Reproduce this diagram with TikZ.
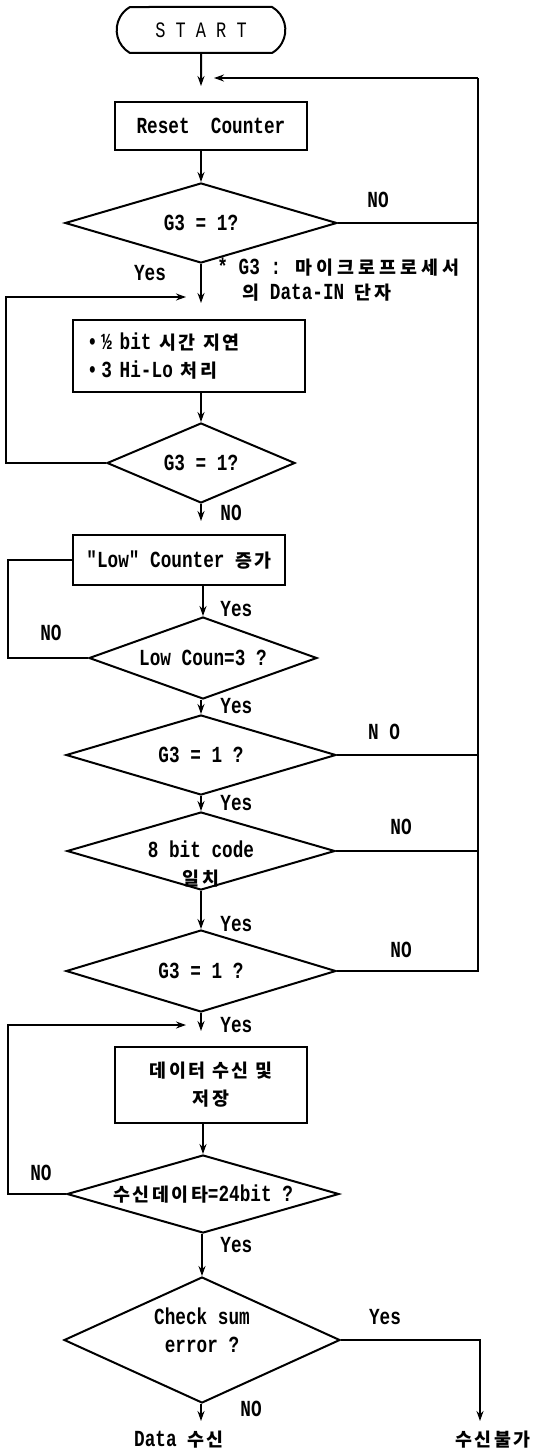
\documentclass[tikz,border=0pt]{standalone}
\usepackage{fontspec}
\setmainfont{Liberation Mono}[FakeStretch=0.77]
\newfontfamily\mono{Liberation Mono}[FakeStretch=0.77]
\newfontfamily\kr{Noto Sans CJK KR}[Scale=0.8,LetterSpace=14]
\usetikzlibrary{shapes.geometric,shapes.misc,arrows.meta}
\tikzset{
    flow/.style={line width=1pt},
    arr/.style={flow,-{Stealth[length=5pt,width=3.5pt]}},
    terminal/.style={draw,flow,rounded rectangle,rounded rectangle arc length=120,minimum width=91pt,minimum height=23pt,font=\mono\fontsize{11}{13}\selectfont},
    process/.style={draw,flow,inner sep=0pt},
    decision/.style={draw,flow,diamond,aspect=3.4,inner sep=0pt},
    txt/.style={inner sep=0pt}
}
\begin{document}
\begin{tikzpicture}[x=0.5pt,y=-0.5pt,every node/.append style={font=\mono\bfseries\fontsize{11.5}{14}\selectfont}]
    \useasboundingbox (0,0) rectangle (534,1450);
    \node[terminal] (start) at (201,30) {S T A R T};
    \node[process,minimum width=96pt,minimum height=24pt] (reset) at (211,126) {Reset\ \ Counter};
    \node[decision,minimum width=136pt,minimum height=40pt] (d1) at (201,223) {G3 = 1?};
    \node[process,minimum width=116pt,minimum height=36pt,text width=102pt,align=left] (delay) at (189,356) {\textbullet\,½ bit {\kr 시간 지연}\\\textbullet\,3 Hi-Lo {\kr 처리}};
    \node[decision,minimum width=94pt,minimum height=40pt] (d2) at (201,463) {G3 = 1?};
    \node[process,minimum width=106pt,minimum height=25pt] (lowcnt) at (179,560) {"Low" Counter {\kr 증가}};
    \node[decision,minimum width=114pt,minimum height=41pt] (d3) at (203,658) {Low Coun=3 ?};
    \node[decision,minimum width=135pt,minimum height=40pt] (d4) at (201,755) {G3 = 1 ?};
    \node[decision,minimum width=134pt,minimum height=39pt] (d5) at (201,851) {};
    \node[txt,align=center] (d5txt) at (201,864) {8 bit code\\{\kr 일치}};
    \node[decision,minimum width=135pt,minimum height=41pt] (d6) at (201,971) {G3 = 1 ?};
    \node[process,minimum width=96pt,minimum height=38pt,align=center] (store) at (211,1085) {{\kr 데이터 수신 및}\\{\kr 저장}};
    \node[decision,minimum width=136pt,minimum height=39pt] (d7) at (203,1194) {{\kr 수신데이타}=24bit ?};
    \node[decision,minimum width=138pt,minimum height=63pt] (d8) at (202,1340) {};
    \node[txt,align=center] (d8txt) at (202,1330) {Check sum\\error ?};
    \node[txt] (okout) at (179,1440) {Data {\kr 수신}};
    \node[txt] (failout) at (493,1440) {\kr 수신불가};

    \node[txt,anchor=west] (note1) at (217,267) {* G3 : {\kr\addfontfeature{LetterSpace=22}마이크로프로세서}};
    \node[txt,anchor=west] (note2) at (242,293) {{\kr 의} Data-IN {\kr 단자}};

    \node[txt] at (378,200) {NO};
    \node[txt] at (150,273) {Yes};
    \node[txt,anchor=west] at (220,513) {NO};
    \node[txt,anchor=west] at (220,609) {Yes};
    \node[txt] at (51,633) {NO};
    \node[txt,anchor=west] at (220,706) {Yes};
    \node[txt] at (384,732) {N O};
    \node[txt,anchor=west] at (220,803) {Yes};
    \node[txt] at (401,827) {NO};
    \node[txt,anchor=west] at (220,924) {Yes};
    \node[txt] at (401,950) {NO};
    \node[txt,anchor=west] at (220,1025) {Yes};
    \node[txt] at (41,1173) {NO};
    \node[txt,anchor=west] at (220,1245) {Yes};
    \node[txt] at (385,1317) {Yes};
    \node[txt] at (251,1409) {NO};

    \coordinate (bus) at (478,78);
    \coordinate (in0) at (214,78);
    \coordinate (a0) at (201,86);
    \coordinate (a1) at (201,303);
    \coordinate (l1) at (186,297);
    \coordinate (a2) at (201,521);
    \coordinate (a6) at (201,1031);
    \coordinate (l6) at (186,1025);
    \coordinate (a8) at (201,1421);
    \coordinate (b8) at (480,1421);

    \draw[arr] (start) -- (a0);
    \draw[arr] (bus) -- (in0);
    \draw[arr] (reset.south -| d1.north) -- (d1.north);
    \draw[flow] (d1.east) -- (d1.east -| bus);
    \draw[arr] (d1.south) -- (a1);
    \draw[arr] (d2.west) -- ++(-100,0) |- (l1);
    \draw[arr] (delay.south -| d2.north) -- (d2.north);
    \draw[arr] (d2.south) -- (a2);
    \draw[arr] (lowcnt.south -| d3.north) -- (d3.north);
    \draw[flow] (d3.west) -- ++(-80,0) |- (lowcnt.west);
    \draw[arr] (d3.south -| d4.north) -- (d4.north);
    \draw[flow] (d4.east) -- (d4.east -| bus);
    \draw[arr] (d4.south) -- (d5.north);
    \draw[flow] (d5.east) -- (d5.east -| bus);
    \draw[arr] (d5.south) -- (d6.north);
    \draw[flow] (d6.east) -- (d6.east -| bus) -- (bus);
    \draw[arr] (d6.south) -- (a6);
    \draw[arr] (d7.west) -- ++(-58,0) |- (l6);
    \draw[arr] (store.south -| d7.north) -- (d7.north);
    \draw[arr] (d7.south -| d8.north) -- (d8.north);
    \draw[arr] (d8.south -| a8) -- (a8);
    \draw[arr] (d8.east) -| (b8);
\end{tikzpicture}
\end{document}
